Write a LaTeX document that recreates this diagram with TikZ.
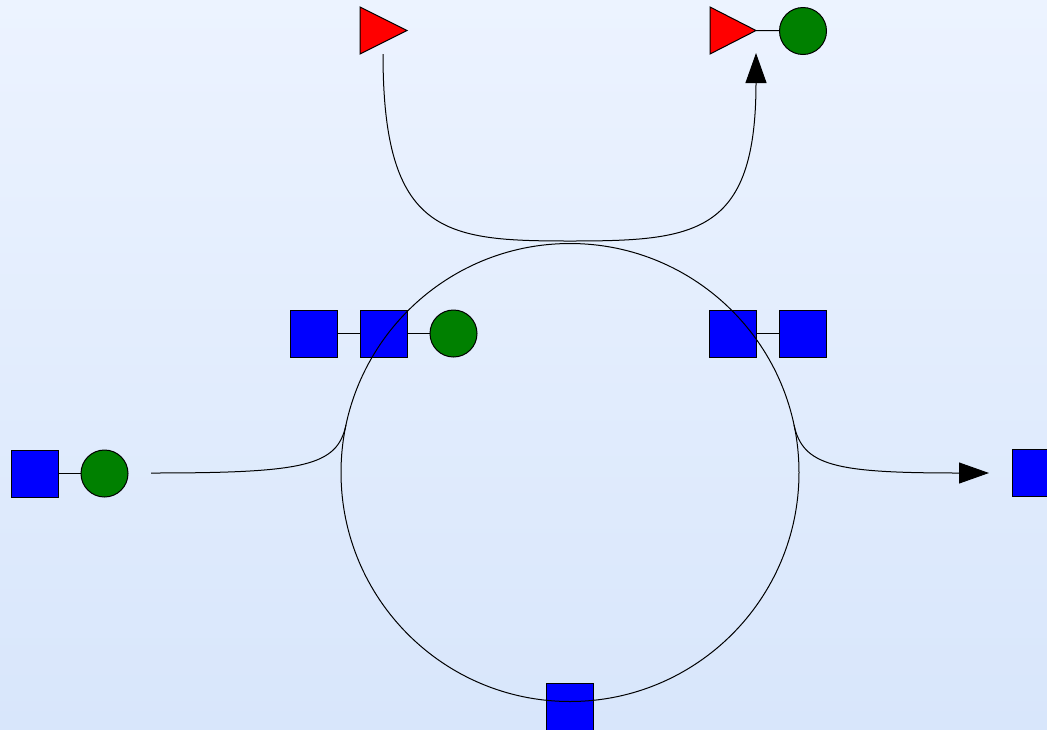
\documentclass[tikz,border=0pt]{standalone}
\usetikzlibrary{arrows.meta}
\definecolor{bgtop}{RGB}{236,243,255}
\definecolor{bgbot}{RGB}{216,230,251}
\definecolor{sqblue}{RGB}{0,0,255}
\definecolor{cgreen}{RGB}{0,128,0}
\definecolor{tred}{RGB}{255,0,0}
\begin{document}
\begin{tikzpicture}[x=1pt,y=-1pt,line width=1pt,
  sq/.style={draw=black,fill=sqblue,rectangle,minimum size=47pt,inner sep=0pt},
  gc/.style={draw=black,fill=cgreen,circle,minimum size=47pt,inner sep=0pt},
  tri/.style={draw=black,fill=tred,line join=miter},
  link/.style={draw=black,line width=1pt},
  flow/.style={draw=black,line width=1pt},
  tipped/.style={-{Triangle[length=30pt,width=21pt]}}]
\useasboundingbox (0,0) rectangle (1047,729);
\shade[top color=bgtop,bottom color=bgbot] (0,0) rectangle (1047,729);
\clip (0,0) rectangle (1047,729);
% left pair
\node[sq] (s1) at (34.5,473.5) {};
\node[gc] (c1) at (104.5,473.5) {};
\draw[link] (s1) -- (c1);
% upper left chain
\node[sq] (s2) at (313.5,333.5) {};
\node[sq] (s3) at (383.5,333.5) {};
\node[gc] (c2) at (453.5,333.5) {};
\draw[link] (s2) -- (s3);
\draw[link] (s3) -- (c2);
% upper right pair
\node[sq] (s4) at (733,333.5) {};
\node[sq] (s5) at (802.5,333.5) {};
\draw[link] (s4) -- (s5);
% bottom and right squares
\node[sq] (s6) at (570,706.5) {};
\node[sq] (s7) at (1035.5,472.5) {};
% top triangles
\draw[tri] (360,7) -- (360,54) -- (407,30.5) -- cycle;
\coordinate (t1bot) at (383,54);
\draw[tri] (710,7) -- (710,54) -- (756,30.5) -- cycle;
\coordinate (t2tip) at (756,30.5);
\node[gc] (c3) at (803,31) {};
\draw[link] (t2tip) -- (c3);
% ring
\node[draw=black,circle,minimum size=458pt,inner sep=0pt] (ring) at (570,472.5) {};
% flows
\coordinate (atop) at (756,53);
\coordinate (ringtop) at (570,241);
\draw[flow,tipped] (t1bot) .. controls (383,235) and (445,241) .. (ringtop)
  .. controls (695,241) and (756,235) .. (atop);
\coordinate (inL) at (151,473);
\coordinate (jL) at (346,425);
\coordinate (jR) at (794,425);
\coordinate (outR) at (989,473);
\draw[flow] (inL) .. controls (305,473) and (337,466) .. (jL);
\draw[flow,tipped] (jR) .. controls (803,466) and (835,473) .. (outR);
\end{tikzpicture}
\end{document}
